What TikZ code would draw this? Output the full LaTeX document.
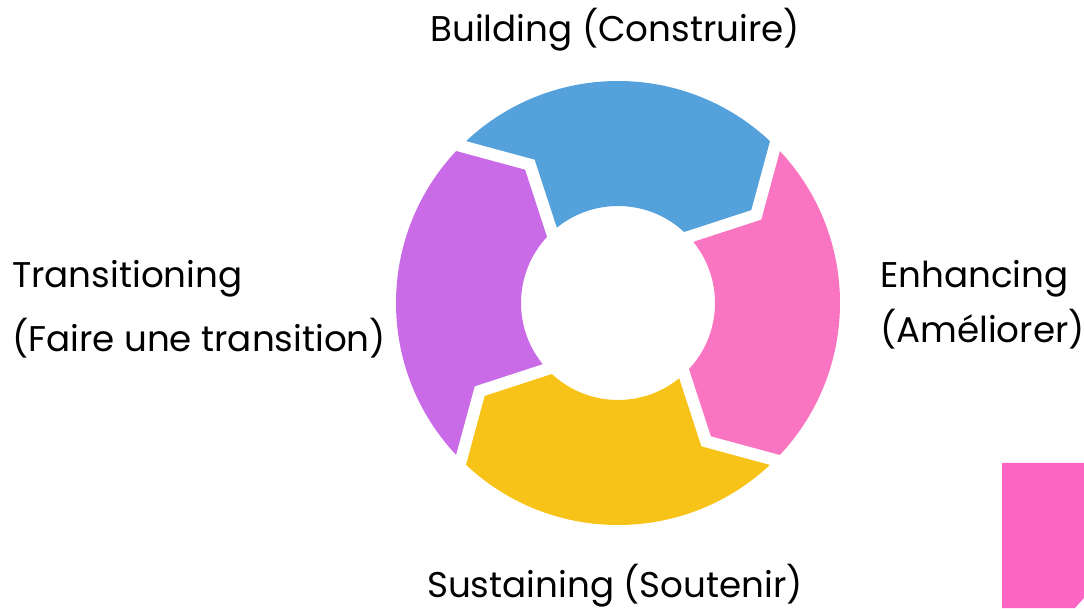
\documentclass[tikz,border=0pt]{standalone}
\usepackage{fontspec}
\setmainfont{Poppins}
\usetikzlibrary{calc}

\definecolor{segblue}{HTML}{55A1DB}
\definecolor{segpink}{HTML}{FA75C1}
\definecolor{segyellow}{HTML}{F8C318}
\definecolor{segpurple}{HTML}{C96BE6}
\definecolor{tabpink}{HTML}{FF66C4}

\tikzset{
  label text/.style={font=\fontsize{35.7}{55}\selectfont, text=black, inner sep=0pt},
  gap line/.style={white, line width=12pt, line join=miter},
}

\begin{document}
\begin{tikzpicture}[x=1pt,y=1pt]
\useasboundingbox (0,0) rectangle (1084,608);
% ring segments, each from its boundary angle going clockwise
\begin{scope}[shift={(618,305)}]
\foreach \a/\c in {135/segblue, 45/segpink, -45/segyellow, 225/segpurple}{
  \path[fill=\c] (\a:222) arc[start angle=\a, end angle=\a-90, radius=222]
    -- (\a-102.5:164) -- (\a-92:97) arc[start angle=\a-92, end angle=\a-2, radius=97]
    -- (\a-12.5:164) -- cycle;
}
% white gaps between the segments
\foreach \a in {135, 45, -45, 225}{
  \coordinate (po) at (\a:222);
  \coordinate (pv) at (\a-12.5:164);
  \coordinate (pi) at (\a-2:97);
  \draw[gap line] ($(pv)!1.4!(po)$) -- (po) -- (pv) -- (pi) -- ($(pv)!1.3!(pi)$);
}
\end{scope}
% labels (base = baseline of the last line)
\node[label text, anchor=base] (build) at (615,566) {Building (Construire)};
\node[label text, anchor=base west, align=left] (enh) at (880,265) {Enhancing\\(Améliorer)};
\node[label text, anchor=base] (sust) at (615,11) {Sustaining (Soutenir)};
\node[label text, font=\fontsize{35.7}{64}\selectfont, anchor=base west, align=left] (trans) at (12,256) {Transitioning\\(Faire une transition)};
% tab at the lower right
\path[fill=tabpink] (1002,145) -- (1084,145) -- (1084,10) -- (1075,0) -- (1002,0) -- cycle;
\end{tikzpicture}
\end{document}
